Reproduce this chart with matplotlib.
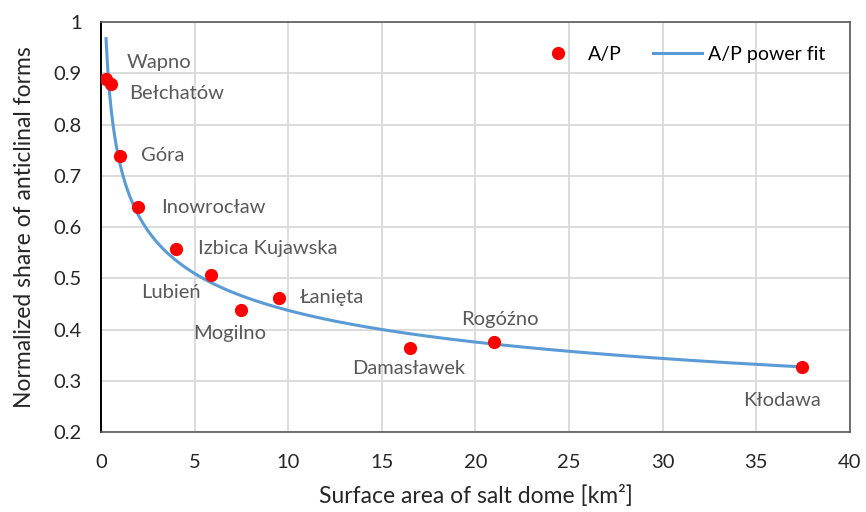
import numpy as np
import matplotlib
matplotlib.use("Agg")
import matplotlib.pyplot as plt

plt.rcParams['font.family'] = ['Lato', 'DejaVu Sans']

# salt domes: surface area [km2] vs normalized share of anticlinal forms
domes = ['Wapno', 'Bełchatów', 'Góra', 'Inowrocław', 'Izbica Kujawska', 'Lubień',
         'Mogilno', 'Łanięta', 'Damasławek', 'Rogóźno', 'Kłodawa']
area = np.array([0.27, 0.53, 1.0, 2.0, 4.0, 5.9, 7.5, 9.5, 16.5, 21.0, 37.45])
share = np.array([0.889, 0.879, 0.739, 0.640, 0.558, 0.506, 0.438, 0.461, 0.365, 0.375, 0.327])

# label offsets in pixels (dx, dy) from each point
offsets = [(53, 16), (66, -9), (43, 0), (75, -1), (92, 0), (-41, -17),
           (-12, -23), (53, 1), (-1, -21), (6, 23), (-20, -33)]

# power fit y = a * x^b via log-log regression
b, loga = np.polyfit(np.log(area), np.log(share), 1)
a = np.exp(loga)
xfit = np.linspace(area.min(), area.max(), 400)
yfit = a * xfit ** b

fig = plt.figure(figsize=(8.66, 5.12), dpi=100)
ax = fig.add_axes([0.1166, 0.156, 0.8649, 0.801])

ax.plot(area, share, 'o', color='#FF0000', markersize=8.5, label='A/P', zorder=4)
ax.plot(xfit, yfit, color='#5B9BD5', lw=2.2, label='A/P power fit', zorder=3)

for name, x, y, (dx, dy) in zip(domes, area, share, offsets):
    ax.annotate(name, (x, y), xytext=(dx, dy), textcoords='offset pixels',
                ha='center', va='center', fontsize=14.5, color='#595959')

ax.set_xlim(0, 40)
ax.set_ylim(0.2, 1.0)
ax.set_xticks(np.arange(0, 41, 5))
ax.set_yticks(np.arange(0.2, 1.01, 0.1))
ax.set_yticklabels(['0.2', '0.3', '0.4', '0.5', '0.6', '0.7', '0.8', '0.9', '1'])
ax.tick_params(length=0, labelsize=14.5, labelcolor='#262626')
ax.tick_params(axis='y', pad=14)
ax.tick_params(axis='x', pad=16)
ax.grid(True, color='#D9D9D9', lw=1.3)
ax.set_axisbelow(True)
for side in ['top', 'right', 'bottom']:
    ax.spines[side].set_color('#595959')
    ax.spines[side].set_linewidth(1.2)
ax.spines['left'].set_color('black')
ax.spines['left'].set_linewidth(1.4)

ax.set_xlabel('Surface area of salt dome [km²]', fontsize=16.5, color='#262626', labelpad=10)
ax.set_ylabel('Normalized share of anticlinal forms', fontsize=16.5, color='#262626', labelpad=13)

ax.legend(loc='upper right', ncol=2, frameon=False, fontsize=14, handlelength=2.5,
          handletextpad=0.3, columnspacing=1.6, bbox_to_anchor=(0.99, 0.985))

fig.savefig('out.png', dpi=100)
